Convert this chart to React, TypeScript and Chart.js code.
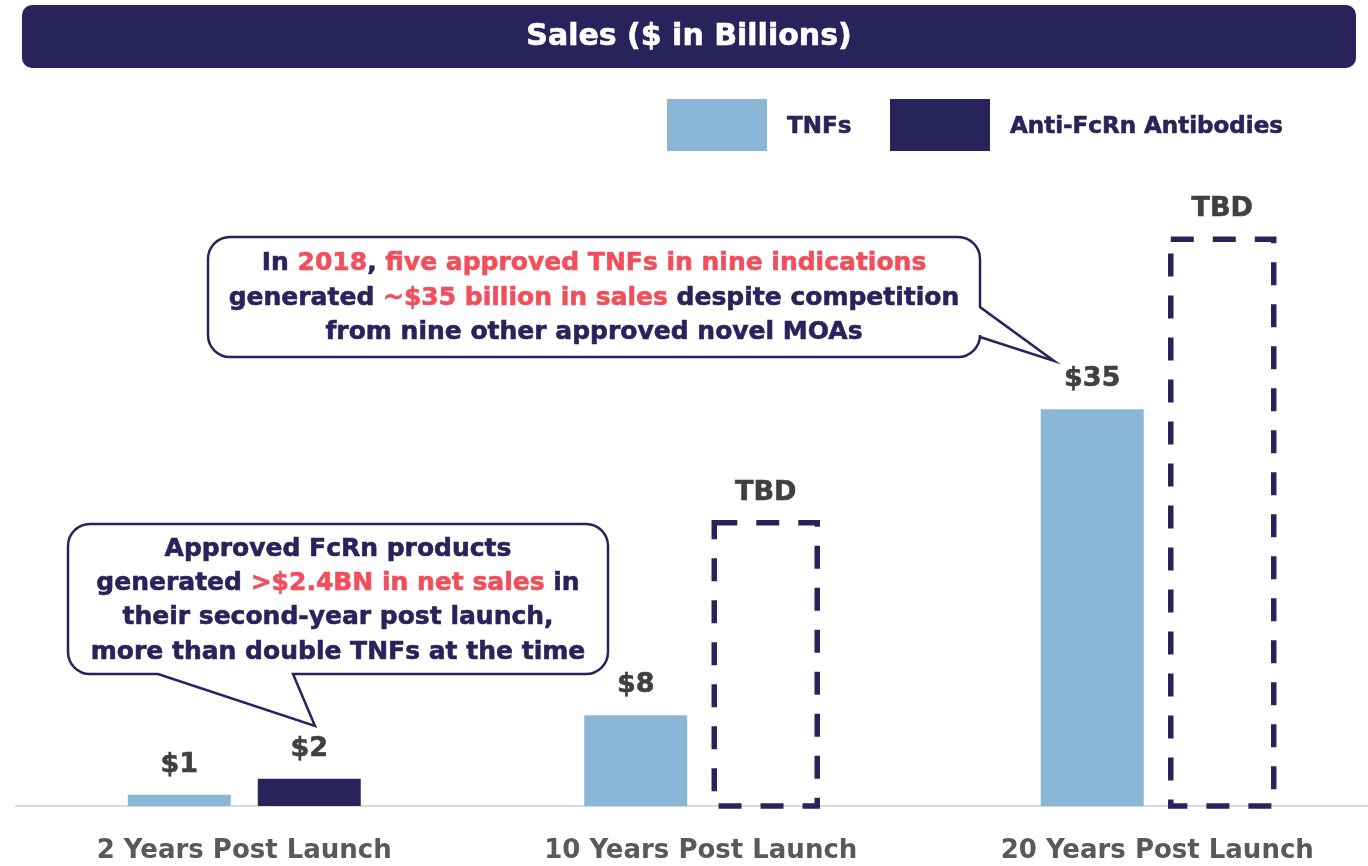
import React, { useEffect, useRef } from "react";
import { Chart, registerables } from "chart.js";

Chart.register(...registerables);

// ---------- data ----------
const categories = ["2 Years Post Launch", "10 Years Post Launch", "20 Years Post Launch"];
const tnfValues = [1, 8, 35];
const fcrnValues = [2.4, 25, 50];
const tnfLabels = ["$1", "$8", "$35"];
const fcrnLabels = ["$2", "TBD", "TBD"];
const fcrnIsTbd = [false, true, true];
const seriesNames = ["TNFs", "Anti-FcRn Antibodies"];
const titleText = "Sales ($ in Billions)";

type Run = [string, boolean];
const callout2018: Run[][] = [
  [["In ", false], ["2018", true], [", ", false], ["five approved TNFs in nine indications", true]],
  [["generated ", false], ["~$35 billion in sales", true], [" despite competition", false]],
  [["from nine other approved novel MOAs", false]],
];
const calloutFcrn: Run[][] = [
  [["Approved FcRn products", false]],
  [["generated ", false], [">$2.4BN in net sales", true], [" in", false]],
  [["their second-year post launch,", false]],
  [["more than double TNFs at the time", false]],
];

// ---------- styles ----------
const FONT = "'DejaVu Sans', 'Open Sans', sans-serif";
const NAVY = "#29235c";
const LIGHT = "#8bb7d6";
const RED = "#f24e5b";
const LABEL_GRAY = "#404040";
const AXIS_GRAY = "#595959";
const CANVAS_W = 1400;
const CANVAS_H = 866;

function boldText(ctx: CanvasRenderingContext2D, t: string, x: number, y: number, color: string) {
  ctx.fillStyle = color;
  ctx.strokeStyle = color;
  ctx.lineWidth = 0.6;
  ctx.fillText(t, x, y);
  ctx.strokeText(t, x, y);
}

function drawRuns(ctx: CanvasRenderingContext2D, lines: Run[][], cx: number, ys: number[], size: number) {
  ctx.font = `bold ${size}px ${FONT}`;
  ctx.textBaseline = "middle";
  ctx.textAlign = "left";
  lines.forEach((runs, i) => {
    const total = runs.reduce((s, r) => s + ctx.measureText(r[0]).width, 0);
    let x = cx - total / 2;
    runs.forEach(([t, hi]) => {
      boldText(ctx, t, x, ys[i], hi ? RED : NAVY);
      x += ctx.measureText(t).width;
    });
  });
}

function calloutRightTail(ctx: CanvasRenderingContext2D, l: number, t: number, r: number, b: number, rad: number,
  ty1: number, tip: [number, number], ty2: number) {
  ctx.beginPath();
  ctx.moveTo(l + rad, t);
  ctx.lineTo(r - rad, t);
  ctx.arcTo(r, t, r, t + rad, rad);
  ctx.lineTo(r, ty1);
  ctx.lineTo(tip[0], tip[1]);
  ctx.lineTo(r, ty2);
  ctx.arcTo(r, b, r - rad, b, rad);
  ctx.lineTo(l + rad, b);
  ctx.arcTo(l, b, l, b - rad, rad);
  ctx.lineTo(l, t + rad);
  ctx.arcTo(l, t, l + rad, t, rad);
  ctx.closePath();
}

function calloutBottomTail(ctx: CanvasRenderingContext2D, l: number, t: number, r: number, b: number, rad: number,
  tx1: number, tip: [number, number], tx2: number) {
  ctx.beginPath();
  ctx.moveTo(l + rad, t);
  ctx.lineTo(r - rad, t);
  ctx.arcTo(r, t, r, t + rad, rad);
  ctx.lineTo(r, b - rad);
  ctx.arcTo(r, b, r - rad, b, rad);
  ctx.lineTo(tx1, b);
  ctx.lineTo(tip[0], tip[1]);
  ctx.lineTo(tx2, b);
  ctx.lineTo(l + rad, b);
  ctx.arcTo(l, b, l, b - rad, rad);
  ctx.lineTo(l, t + rad);
  ctx.arcTo(l, t, l + rad, t, rad);
  ctx.closePath();
}

const decorPlugin = {
  id: "decor",
  afterDatasetsDraw(chart: any) {
    const ctx: CanvasRenderingContext2D = chart.ctx;
    ctx.save();
    // dashed TBD bars
    const meta1 = chart.getDatasetMeta(1);
    meta1.data.forEach((el: any, i: number) => {
      if (!fcrnIsTbd[i]) return;
      const p = el.getProps(["x", "y", "base", "width"], true);
      ctx.save();
      ctx.strokeStyle = NAVY;
      ctx.lineWidth = 5.5;
      ctx.setLineDash([23, 19]);
      ctx.beginPath();
      ctx.moveTo(p.x - p.width / 2, p.y);
      ctx.lineTo(p.x + p.width / 2, p.y);
      ctx.lineTo(p.x + p.width / 2, p.base);
      ctx.lineTo(p.x - p.width / 2, p.base);
      ctx.closePath();
      ctx.stroke();
      ctx.restore();
    });
    // value labels
    ctx.font = `bold 27px ${FONT}`;
    ctx.textAlign = "center";
    ctx.textBaseline = "middle";
    [tnfLabels, fcrnLabels].forEach((labels, d) => {
      chart.getDatasetMeta(d).data.forEach((el: any, i: number) => {
        const p = el.getProps(["x", "y"], true);
        boldText(ctx, labels[i], p.x, p.y - 30, LABEL_GRAY);
      });
    });
    ctx.restore();
  },
  afterDraw(chart: any) {
    const ctx: CanvasRenderingContext2D = chart.ctx;
    ctx.save();
    // title banner
    ctx.fillStyle = NAVY;
    ctx.beginPath();
    (ctx as any).roundRect(22, 5, 1334, 63, 10);
    ctx.fill();
    ctx.font = `bold 30px ${FONT}`;
    ctx.textAlign = "center";
    ctx.textBaseline = "middle";
    boldText(ctx, titleText, 689, 37, "#ffffff");

    // legend
    const legendBoxes: [number, string][] = [[667, LIGHT], [890, NAVY]];
    ctx.font = `bold 23px ${FONT}`;
    ctx.textAlign = "left";
    legendBoxes.forEach(([x, c], i) => {
      ctx.fillStyle = c;
      ctx.fillRect(x, 99, 100, 52);
      boldText(ctx, seriesNames[i], x + 120, 127, NAVY);
    });

    // callouts
    ctx.lineWidth = 2.5;
    ctx.strokeStyle = NAVY;
    ctx.fillStyle = "#ffffff";
    calloutRightTail(ctx, 208, 237, 980, 357, 22, 307, [1054, 361], 337);
    ctx.fill();
    ctx.stroke();
    drawRuns(ctx, callout2018, 594, [263, 298, 332], 25);

    ctx.lineWidth = 2.5;
    ctx.strokeStyle = NAVY;
    ctx.fillStyle = "#ffffff";
    calloutBottomTail(ctx, 68, 524, 608, 674, 22, 293, [315, 726], 158);
    ctx.fill();
    ctx.stroke();
    drawRuns(ctx, calloutFcrn, 338, [549, 583, 617, 652], 25);
    ctx.restore();
  },
};

export default function App() {
  const ref = useRef<HTMLCanvasElement | null>(null);
  useEffect(() => {
    if (!ref.current) return;
    const chart = new Chart(ref.current, {
      type: "bar",
      data: {
        labels: categories,
        datasets: [
          { label: seriesNames[0], data: tnfValues, backgroundColor: LIGHT, borderWidth: 0 },
          {
            label: seriesNames[1],
            data: fcrnValues,
            backgroundColor: fcrnIsTbd.map((t) => (t ? "rgba(0,0,0,0)" : NAVY)),
            borderWidth: 0,
          },
        ],
      },
      options: {
        responsive: false,
        animation: false,
        events: [],
        layout: { padding: { left: 16, right: CANVAS_W - 1385.5, top: 126, bottom: 0 } },
        datasets: { bar: { categoryPercentage: 0.5696, barPercentage: 0.792 } },
        plugins: { legend: { display: false }, title: { display: false }, tooltip: { enabled: false } },
        scales: {
          x: {
            grid: { display: false, drawTicks: false },
            border: { display: true, color: "#d9d9d9", width: 2 },
            ticks: { color: AXIS_GRAY, font: { family: FONT, size: 26, weight: "bold" }, padding: 30, maxRotation: 0 },
            afterFit: (scale: any) => { scale.height = 60; },
          },
          y: { display: false, min: 0, max: 60 },
        },
      } as any,
      plugins: [decorPlugin],
    });
    return () => chart.destroy();
  }, []);
  return (
    <div style={{ position: "fixed", left: 0, top: 0, width: 1368, height: CANVAS_H, overflow: "hidden", background: "#fff" }}>
      <canvas ref={ref} width={CANVAS_W} height={CANVAS_H} style={{ display: "block", width: CANVAS_W, height: CANVAS_H }} />
    </div>
  );
}
